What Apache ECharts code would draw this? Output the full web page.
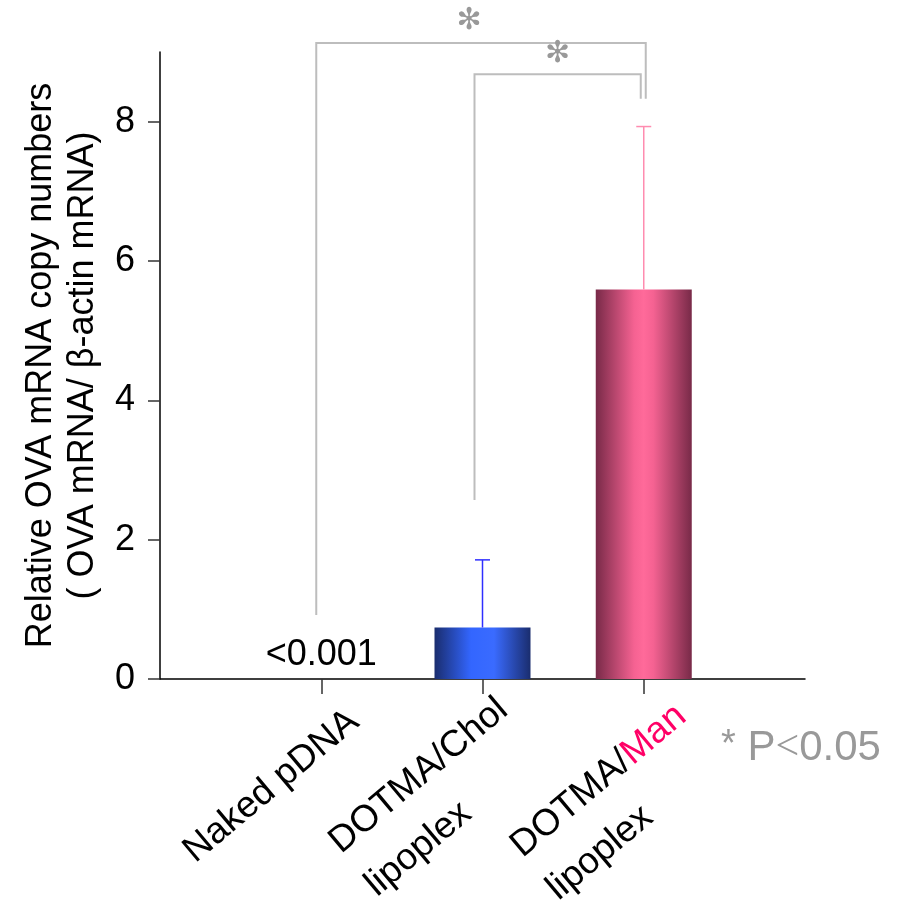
<!DOCTYPE html>
<html>
<head>
<meta charset="utf-8">
<script src="https://cdn.jsdelivr.net/npm/echarts@6/dist/echarts.min.js"></script>
<style>
  html, body { margin: 0; padding: 0; background: #ffffff; }
  #chart { width: 899px; height: 900px; }
</style>
</head>
<body>
<div id="chart"></div>
<script>
// Groups on the x axis
const categories = ['Naked pDNA', 'DOTMA/Chol\nlipoplex', 'DOTMA/Man\nlipoplex'];
// Mean relative OVA mRNA copy numbers per group
const meanValues = [0.001, 0.74, 5.59];
// Upper end of the error bar (mean + SD); none for naked pDNA
const errorUpper = [null, 1.71, 7.93];
// Y tick labels
const yTicks = [0, 2, 4, 6, 8];

// Significance brackets: from group, to group, foot heights and top height
const bracketFrom = ['Naked pDNA', 'DOTMA/Chol\nlipoplex'];
const bracketTo = ['DOTMA/Man\nlipoplex', 'DOTMA/Man\nlipoplex'];
const bracketLeftFoot = [0.92, 2.57];
const bracketRightFoot = [8.33, 8.33];
const bracketTop = [9.13, 8.68];
const bracketMark = ['\u273B', '\u273B'];

// ---- styles ----
const FONT = 'Liberation Sans, Arial, sans-serif';
const barFills = [
  '#ffffff',
  new echarts.graphic.LinearGradient(0, 0, 1, 0, [
    { offset: 0, color: '#1a2d6e' },
    { offset: 0.38, color: '#3366ff' },
    { offset: 0.62, color: '#3a6bff' },
    { offset: 1, color: '#1a2d6e' }
  ]),
  new echarts.graphic.LinearGradient(0, 0, 1, 0, [
    { offset: 0, color: '#782a48' },
    { offset: 0.4, color: '#f56292' },
    { offset: 0.5, color: '#ff6a9a' },
    { offset: 0.6, color: '#f56292' },
    { offset: 1, color: '#782a48' }
  ])
];
const errorColors = ['#000000', '#2f2fff', '#ff8cb0'];
// small horizontal nudges of the bracket legs and the star (px)
const bracketNudge = [[-5, 2], [-8, -3]];
const markNudge = [[-12, -22], [0, -20]];
// slanted labels: trailing space after the first line (moves a label along its baseline)
// and extra drop across the baseline
const labelTail = [146, 154, 132];
const labelDrop = [0, 11, 27];
const LABEL_LH = 56;

// The axis has an empty slot at each end so the groups sit inside
const slots = [''].concat(categories, ['']);

const barData = slots.map(function (name) {
  const i = categories.indexOf(name);
  if (i < 0) return '-';
  const item = { value: meanValues[i], itemStyle: { color: barFills[i] } };
  if (i === 0) {
    item.label = {
      show: true,
      position: 'top',
      distance: 6,
      formatter: function (p) { return '<' + p.value.toFixed(3); },
      fontFamily: FONT,
      fontSize: 36,
      color: '#000'
    };
  }
  return item;
});

const errorData = [];
categories.forEach(function (name, i) {
  if (errorUpper[i] != null) errorData.push([slots.indexOf(name), meanValues[i], errorUpper[i], i]);
});

const bracketData = bracketFrom.map(function (from, k) {
  return [slots.indexOf(from), slots.indexOf(bracketTo[k]), bracketLeftFoot[k], bracketRightFoot[k], bracketTop[k], k];
});

const labelRich = {
  t: { fontFamily: FONT, fontSize: 37, lineHeight: LABEL_LH, color: '#000', align: 'left', verticalAlign: 'bottom' },
  m: { fontFamily: FONT, fontSize: 37, lineHeight: LABEL_LH, color: '#ff0066', align: 'left', verticalAlign: 'bottom' }
};
labelTail.forEach(function (w, i) {
  labelRich['sp' + i] = {
    width: w, fontSize: 37, lineHeight: LABEL_LH + 2 * labelDrop[i],
    align: 'left', verticalAlign: 'bottom'
  };
});

function formatCategory(v) {
  const i = categories.indexOf(v);
  if (i < 0) return '';
  const lines = v.split('\n').map(function (line) {
    return line.replace(/([^]*?)(Man)?$/, function (all, head, man) {
      return '{t|' + head + '}' + (man ? '{m|' + man + '}' : '');
    });
  });
  lines[0] += '{sp' + i + '| }';
  return lines.join('\n');
}

const chart = echarts.init(document.getElementById('chart'), null, { renderer: 'canvas' });

chart.setOption({
  animation: false,
  backgroundColor: '#ffffff',
  textStyle: { fontFamily: FONT },
  grid: { left: 160, right: 94, top: 52, bottom: 221, containLabel: false, outerBoundsMode: 'none' },
  xAxis: {
    type: 'category',
    data: slots,
    boundaryGap: false,
    axisLine: { lineStyle: { color: '#000', width: 1.5 } },
    axisTick: {
      show: true,
      length: 15,
      interval: function (idx, val) { return val !== ''; },
      lineStyle: { color: '#333', width: 1.5 }
    },
    axisLabel: {
      interval: 0,
      rotate: 40,
      align: 'center',
      verticalAlign: 'middle',
      margin: 53,
      fontFamily: FONT,
      fontSize: 37,
      lineHeight: LABEL_LH,
      color: '#000',
      formatter: formatCategory,
      rich: labelRich
    },
    splitLine: { show: false }
  },
  yAxis: {
    type: 'value',
    min: 0,
    max: 9,
    interval: 2,
    name: 'Relative OVA mRNA copy numbers\n( OVA mRNA/ \u03B2-actin mRNA)',
    nameLocation: 'middle',
    nameRotate: 90,
    nameGap: 42,
    nameTextStyle: { fontFamily: FONT, fontSize: 36, lineHeight: 42, color: '#000', align: 'center' },
    axisLine: { show: true, lineStyle: { color: '#000', width: 1.5 } },
    axisTick: { show: true, length: 12, customValues: yTicks, lineStyle: { color: '#333', width: 1.5 } },
    axisLabel: { customValues: yTicks, margin: 25, fontFamily: FONT, fontSize: 36, color: '#000' },
    splitLine: { show: false }
  },
  series: [
    {
      type: 'bar',
      data: barData,
      barWidth: 96,
      z: 2
    },
    {
      type: 'custom',
      data: errorData,
      z: 3,
      renderItem: function (params, api) {
        const x = api.value(0);
        const base = api.coord([x, api.value(1)]);
        const top = api.coord([x, api.value(2)]);
        const color = errorColors[api.value(3)];
        const style = { stroke: color, lineWidth: 1.5 };
        return {
          type: 'group',
          children: [
            { type: 'line', shape: { x1: base[0], y1: base[1], x2: top[0], y2: top[1] }, style: style },
            { type: 'line', shape: { x1: top[0] - 7.5, y1: top[1], x2: top[0] + 7.5, y2: top[1] }, style: style }
          ]
        };
      }
    },
    {
      type: 'custom',
      data: bracketData,
      clip: false,
      z: 4,
      renderItem: function (params, api) {
        const k = api.value(5);
        const l0 = api.coord([api.value(0), api.value(2)]);
        const r0 = api.coord([api.value(1), api.value(3)]);
        const t = api.coord([api.value(0), api.value(4)]);
        const xl = l0[0] + bracketNudge[k][0];
        const xr = r0[0] + bracketNudge[k][1];
        const yt = t[1];
        return {
          type: 'group',
          children: [
            {
              type: 'polyline',
              shape: { points: [[xl, l0[1]], [xl, yt], [xr, yt], [xr, r0[1]]] },
              style: { stroke: '#bdbdbd', lineWidth: 2, fill: null }
            },
            {
              type: 'text',
              x: (xl + xr) / 2 + markNudge[k][0],
              y: yt + markNudge[k][1],
              style: {
                text: bracketMark[k],
                fontFamily: 'DejaVu Sans, sans-serif',
                fontSize: 30,
                fill: '#999999',
                align: 'center',
                verticalAlign: 'middle'
              }
            }
          ]
        };
      }
    }
  ],
  graphic: [
    {
      type: 'text',
      left: 721,
      top: 727,
      style: {
        text: '{s|*} P{lt|<}0.05',
        fontFamily: FONT,
        fontSize: 42,
        fill: '#999999',
        rich: {
          s: { fontFamily: FONT, fontSize: 38, fill: '#999999', verticalAlign: 'top' },
          lt: { fontFamily: 'Liberation Serif, serif', fontSize: 42, fill: '#999999' }
        }
      }
    }
  ]
});
</script>
</body>
</html>
